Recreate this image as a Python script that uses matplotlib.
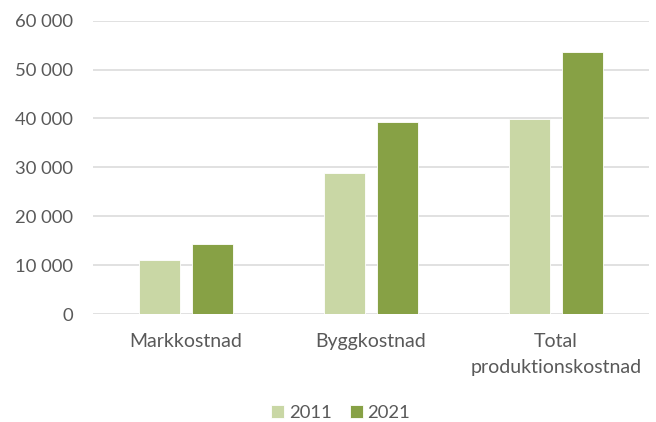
import matplotlib.pyplot as plt
import numpy as np

categories = ['Markkostnad', 'Byggkostnad', 'Total\nproduktionskostnad']
years = ['2011', '2021']
values_2011 = [11000, 28800, 39900]
values_2021 = [14400, 39300, 53600]
yticks = [0, 10000, 20000, 30000, 40000, 50000, 60000]

plt.rcParams['font.family'] = ['Lato', 'DejaVu Sans']

fig = plt.figure(figsize=(6.56, 4.22), dpi=100)
ax = fig.add_axes([0.1422, 0.2559, 0.8466, 0.695])

x = np.arange(len(categories))
w = 0.223
off = 0.1432
ax.bar(x - off, values_2011, w, color='#C9D7A5', edgecolor='white', linewidth=0.6, label=years[0], zorder=3)
ax.bar(x + off, values_2021, w, color='#87A145', edgecolor='white', linewidth=0.6, label=years[1], zorder=3)

ax.set_xlim(-0.5, 2.5)
ax.set_ylim(0, 60000)
ax.set_yticks(yticks)
ax.set_yticklabels([f'{v:,}'.replace(',', ' ') for v in yticks])
ax.set_xticks(x)
ax.set_xticklabels(categories, linespacing=1.6)
ax.grid(axis='y', color='#D9D9D9', linewidth=1.1, zorder=0)
for s in ax.spines.values():
    s.set_visible(False)
ax.tick_params(axis='both', length=0, colors='#595959')
ax.tick_params(axis='x', labelsize=14, pad=14)
ax.tick_params(axis='y', labelsize=13.3, pad=14.8)

fig.legend(loc='center', bbox_to_anchor=(0.5195, 0.0213), ncol=2, frameon=False,
           fontsize=13.3, labelcolor='#595959', handlelength=0.69, handleheight=0.69,
           handletextpad=0.25, columnspacing=1.0, borderpad=0)

fig.savefig('out.png', dpi=100)
